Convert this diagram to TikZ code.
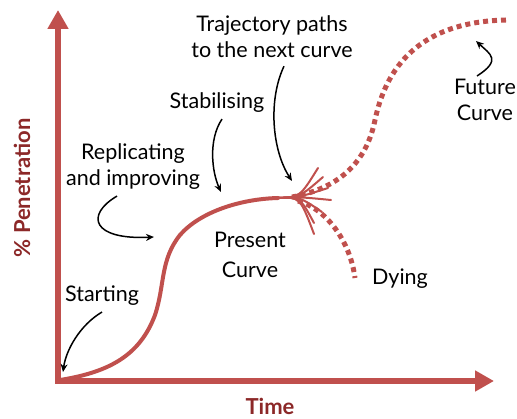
\documentclass[tikz,border=0pt]{standalone}
\usepackage{fontspec}
\setmainfont{Lato}
\usetikzlibrary{arrows.meta, positioning}
\definecolor{scurve_red}{RGB}{192, 80, 77}
\definecolor{scurve_dark}{RGB}{140, 40, 40}

\begin{document}
\begin{tikzpicture}[x=1pt, y=-1pt,
    lbl/.style={font=\fontsize{21.5}{26}\selectfont, align=center, inner sep=0pt},
    axislbl/.style={font=\fontsize{22}{26}\selectfont\bfseries, text=scurve_dark, inner sep=0pt},
    axis/.style={line width=6pt, scurve_red,
                 {Triangle[length=19pt, width=20pt]}-{Triangle[length=19pt, width=20pt]}},
    curve/.style={line width=4pt, scurve_red, line cap=round},
    dots/.style={line width=5pt, scurve_red, dash pattern=on 5pt off 4pt},
    strand/.style={line width=2pt, scurve_red, line cap=round},
    pointer/.style={-{Stealth[length=8pt, width=7pt]}, line width=1.5pt, black},
  ]
    \useasboundingbox (0,0) rectangle (517,419);

    % axes
    \coordinate (ytop) at (58,10);
    \coordinate (orig) at (58,381);
    \coordinate (xend) at (494,381);
    \draw[axis] (ytop) -- (orig) -- (xend);

    \node[axislbl, rotate=90] (yl) at (22,188) {\% Penetration};
    \node[axislbl] (xl) at (270,406) {Time};

    % present curve and its branches
    \coordinate (bundle) at (278,198);
    \draw[curve] (orig) ++(2,-1) .. controls (110,372) and (140,355) .. (155,315)
      .. controls (165,285) and (160,260) .. (180,235)
      .. controls (200,212) and (240,199) .. (bundle);

    \foreach \ex/\ey in {318/168, 323/177, 328/188, 331/200, 322/212, 314/223, 314/234}
      \draw[strand] (bundle) .. controls +(22,-1) .. (\ex,\ey);

    \draw[dots] (292,197) .. controls (330,190) and (365,170) .. (375,120)
      .. controls (384,78) and (410,22) .. (506,20);
    \draw[dots] (298,201) .. controls (325,208) and (350,240) .. (355,278);

    % labels
    \node[lbl] (traj) at (272,37) {Trajectory paths\\to the next curve};
    \node[lbl] (stab) at (217,103) {Stabilising};
    \node[lbl] (repl) at (133,167) {Replicating\\and improving};
    \node[lbl] (strt) at (102,296) {Starting};
    \node[lbl] (pres) at (250,255) {Present\\[4pt]Curve};
    \node[lbl] (dyin) at (400,279) {Dying};
    \node[lbl] (futr) at (485,100) {Future\\Curve};

    % pointers
    \coordinate (trajtip) at (292,181);
    \coordinate (stabtip) at (221,192);
    \coordinate (repltip) at (154,237);
    \coordinate (strttip) at (63,372);
    \coordinate (futrtip) at (476,41);

    \draw[pointer] ([xshift=12pt, yshift=-8pt]traj.south) .. controls (268,100) and (272,150) .. (trajtip);
    \draw[pointer] ([xshift=5pt, yshift=-6pt]stab.south) .. controls (208,140) and (212,172) .. (stabtip);
    \draw[pointer] ([xshift=-16pt, yshift=-6pt]repl.south) .. controls (85,215) and (92,240) .. (repltip);
    \draw[pointer] ([yshift=-6pt]strt.south) .. controls (80,325) and (66,350) .. (strttip);
    \draw[pointer] ([xshift=-8pt, yshift=3pt]futr.north) .. controls (502,60) and (490,54) .. (futrtip);
\end{tikzpicture}
\end{document}
